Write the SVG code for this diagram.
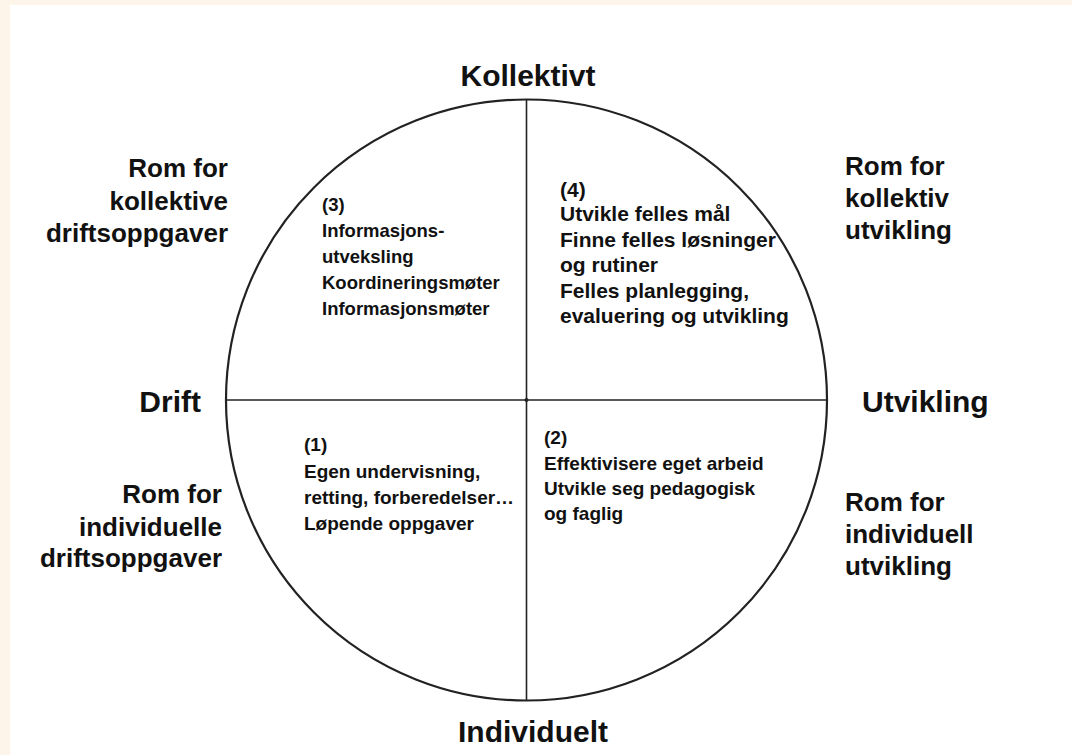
<svg xmlns="http://www.w3.org/2000/svg" width="1072" height="755" viewBox="0 0 1072 755">
<style>
.main{font-family:"Liberation Sans",Arial,sans-serif;font-weight:bold;font-size:30px;fill:#111}
.side{font-family:"Liberation Sans",Arial,sans-serif;font-weight:bold;font-size:26px;fill:#111}
.q{font-family:"Liberation Sans",Arial,sans-serif;font-weight:bold;fill:#111}
.ln{stroke:#222;fill:none}
</style>
<rect x="0" y="0" width="1072" height="755" fill="#fdf5ea"/>
<rect x="10" y="5" width="1062" height="750" fill="#ffffff"/>
<g id="circle">
<circle class="ln" cx="526.5" cy="400" r="300.5" stroke-width="2.2"/>
</g>
<g id="connectors">
<line class="ln" x1="526.5" y1="100" x2="526.5" y2="700" stroke-width="1.6"/>
<line class="ln" x1="226" y1="400" x2="827" y2="400" stroke-width="1.6"/>
<circle cx="526.5" cy="400" r="2" fill="#222"/>
</g>
<g id="axis-labels">
<text class="main" x="528" y="86" text-anchor="middle">Kollektivt</text>
<text class="main" x="201" y="412" text-anchor="end">Drift</text>
<text class="main" x="862" y="412">Utvikling</text>
<text class="main" x="533" y="742" text-anchor="middle">Individuelt</text>
</g>
<g id="room-labels">
<text class="side" text-anchor="end"><tspan x="228" y="177">Rom for</tspan><tspan x="228" y="210">kollektive</tspan><tspan x="228" y="242">driftsoppgaver</tspan></text>
<text class="side" text-anchor="end"><tspan x="222" y="503">Rom for</tspan><tspan x="222" y="536">individuelle</tspan><tspan x="222" y="567">driftsoppgaver</tspan></text>
<text class="side"><tspan x="845" y="175">Rom for</tspan><tspan x="845" y="207">kollektiv</tspan><tspan x="845" y="239">utvikling</tspan></text>
<text class="side"><tspan x="845" y="511">Rom for</tspan><tspan x="845" y="543">individuell</tspan><tspan x="845" y="575">utvikling</tspan></text>
</g>
<g id="q3">
<text class="q" font-size="18.5"><tspan x="322" y="211">(3)</tspan><tspan x="322" y="237">Informasjons-</tspan><tspan x="322" y="263">utveksling</tspan><tspan x="322" y="289">Koordineringsmøter</tspan><tspan x="322" y="315">Informasjonsmøter</tspan></text>
</g>
<g id="q4">
<text class="q" font-size="21"><tspan x="560" y="197">(4)</tspan><tspan x="560" y="221">Utvikle felles mål</tspan><tspan x="560" y="247">Finne felles løsninger</tspan><tspan x="560" y="272">og rutiner</tspan><tspan x="560" y="298">Felles planlegging,</tspan><tspan x="560" y="323">evaluering og utvikling</tspan></text>
</g>
<g id="q1">
<text class="q" font-size="19"><tspan x="304" y="451">(1)</tspan><tspan x="304" y="478">Egen undervisning,</tspan><tspan x="304" y="504">retting, forberedelser…</tspan><tspan x="304" y="530">Løpende oppgaver</tspan></text>
</g>
<g id="q2">
<text class="q" font-size="19"><tspan x="544" y="444">(2)</tspan><tspan x="544" y="470">Effektivisere eget arbeid</tspan><tspan x="544" y="495">Utvikle seg pedagogisk</tspan><tspan x="544" y="520">og faglig</tspan></text>
</g>
</svg>
